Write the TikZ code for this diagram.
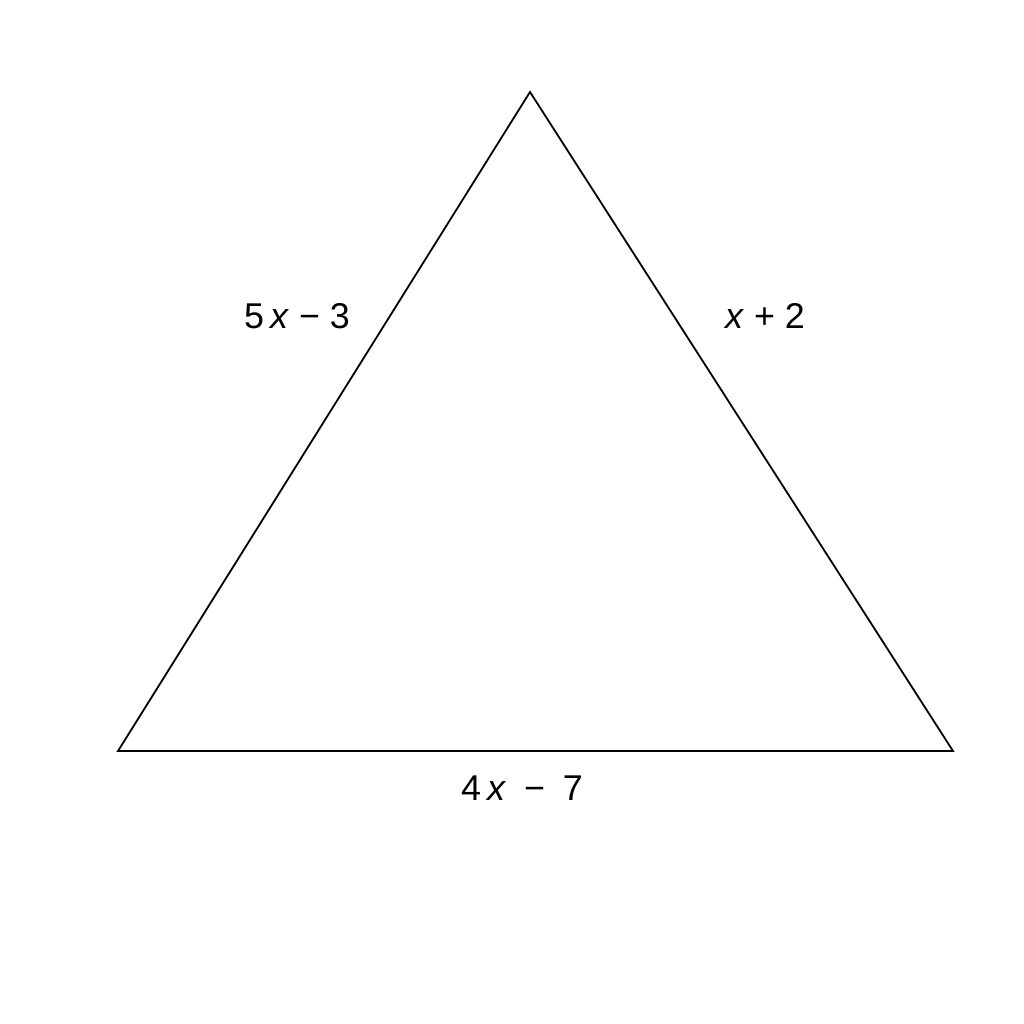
\documentclass[tikz,border=0pt]{standalone}
\usepackage{fontspec}
\setmainfont{Liberation Sans}
\usepackage{tikz}
\tikzstyle{side} = [draw=black, line width=0.18mm, line join=miter]
\tikzstyle{sideLabel} = [font=\fontsize{10.2}{12}\selectfont, inner sep=0pt]

\begin{document}
\begin{tikzpicture}
    \useasboundingbox[fill=white] (0, 0) rectangle (10.24, 10.24);

    \coordinate (apex) at (5.30, 9.32);
    \coordinate (left) at (1.18, 2.73);
    \coordinate (right) at (9.53, 2.73);

    \draw[side] (apex) -- (left) -- (right) -- cycle;

    \node (leftLabel) [sideLabel] at (2.97, 7.08) {5\,\textit{x} − 3};
    \node (rightLabel) [sideLabel] at (7.65, 7.08) {\textit{x} + 2};
    \node (baseLabel) [sideLabel] at (5.22, 2.36) {4\,\textit{x}\enspace −\enspace 7};

\end{tikzpicture}
\end{document}
